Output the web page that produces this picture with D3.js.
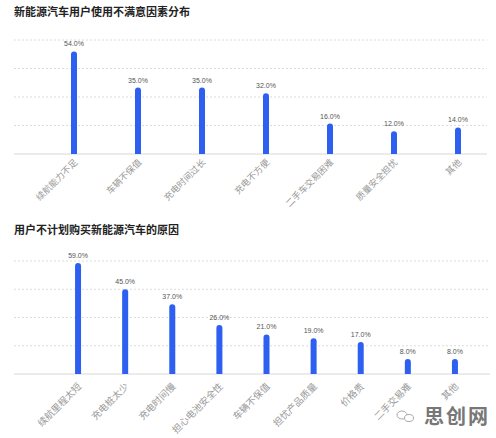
<!DOCTYPE html>
<html><head><meta charset="utf-8">
<script src="https://cdn.jsdelivr.net/npm/d3@7"></script>
<style>body{margin:0;background:#fff;font-family:"Noto Sans CJK SC",sans-serif}</style>
</head><body><svg id="c" width="496" height="438"></svg>
<script>
const title1 = "新能源汽车用户使用不满意因素分布";
const cats1 = ["续航能力不足","车辆不保值","充电时间过长","充电不方便","二手车交易困难","质量安全担忧","其他"];
const vals1 = [54,35,35,32,16,12,14];
const title2 = "用户不计划购买新能源汽车的原因";
const cats2 = ["续航里程太短","充电桩太少","充电时间慢","担心电池安全性","车辆不保值","担忧产品质量","价格贵","二手交易难","其他"];
const vals2 = [59,45,37,26,21,19,17,8,8];
const yTicks = [0,15,30,45,60];

const svg = d3.select("#c");
const font = '"Noto Sans CJK SC", sans-serif';

function chart(cfg){
  const g = svg.append("g");
  g.append("text").attr("x",14).attr("y",cfg.titleY).attr("font-size",11).attr("font-weight","bold")
    .attr("fill","#222").attr("font-family",font).text(cfg.title);
  const y = d3.scaleLinear().domain([0,60]).range([cfg.base, cfg.top]);
  const x = d3.scaleBand().domain(cfg.cats).range(cfg.xr);
  g.selectAll("line.grid").data(yTicks.filter(t=>t>0)).join("line")
    .attr("x1",14).attr("x2",cfg.gx2).attr("y1",d=>y(d)).attr("y2",d=>y(d))
    .attr("stroke","#dcdcdc").attr("stroke-width",1).attr("stroke-dasharray","2,2");
  g.append("line").attr("x1",14).attr("x2",cfg.gx2).attr("y1",y(0)).attr("y2",y(0))
    .attr("stroke","#d8d8d8").attr("stroke-width",1);
  const bw = 6;
  g.selectAll("path.bar").data(cfg.vals).join("path")
    .attr("fill","#2d5ff0")
    .attr("d",(d,i)=>{
      const cx = x(cfg.cats[i]) + x.bandwidth()/2;
      const x0 = cx-bw/2, y0=y(d), yb=y(0), r=bw/2;
      return `M${x0},${yb}L${x0},${y0+r}A${r},${r} 0 0 1 ${x0+bw},${y0+r}L${x0+bw},${yb}Z`;
    });
  g.selectAll("text.val").data(cfg.vals).join("text")
    .attr("x",(d,i)=>x(cfg.cats[i])+x.bandwidth()/2).attr("y",d=>y(d)-5)
    .attr("text-anchor","middle").attr("font-size",7).attr("fill","#555")
    .attr("font-family","Arial, sans-serif").text(d=>d.toFixed(1)+"%");
  g.selectAll("text.cat").data(cfg.cats).join("text")
    .attr("transform",d=>`translate(${x(d)+x.bandwidth()/2+4},${y(0)+cfg.lblOff}) rotate(-45)`)
    .attr("text-anchor","end").attr("font-size",cfg.lblSize).attr("fill","#999")
    .attr("font-family",font).text(d=>d);
}

chart({title:title1,titleY:16,cats:cats1,vals:vals1,base:154,top:40,xr:[42,490],gx2:487,lblOff:9,lblSize:9});
chart({title:title2,titleY:234,cats:cats2,vals:vals2,base:374,top:261,xr:[54.5,478.5],gx2:490,lblOff:13,lblSize:9.5});

// watermark
const wm = svg.append("g");
wm.append("ellipse").attr("cx",402).attr("cy",415).attr("rx",5).attr("ry",4).attr("fill","none").attr("stroke","#aaa").attr("stroke-width",1);
wm.append("ellipse").attr("cx",409).attr("cy",418).attr("rx",4.5).attr("ry",3.5).attr("fill","#fff").attr("stroke","#aaa").attr("stroke-width",1);
wm.append("text").attr("x",490).attr("y",424).attr("text-anchor","end").attr("font-size",20)
  .attr("letter-spacing",2).attr("font-weight","bold").attr("fill","#777").attr("font-family",font).text("思创网");
</script></body></html>
